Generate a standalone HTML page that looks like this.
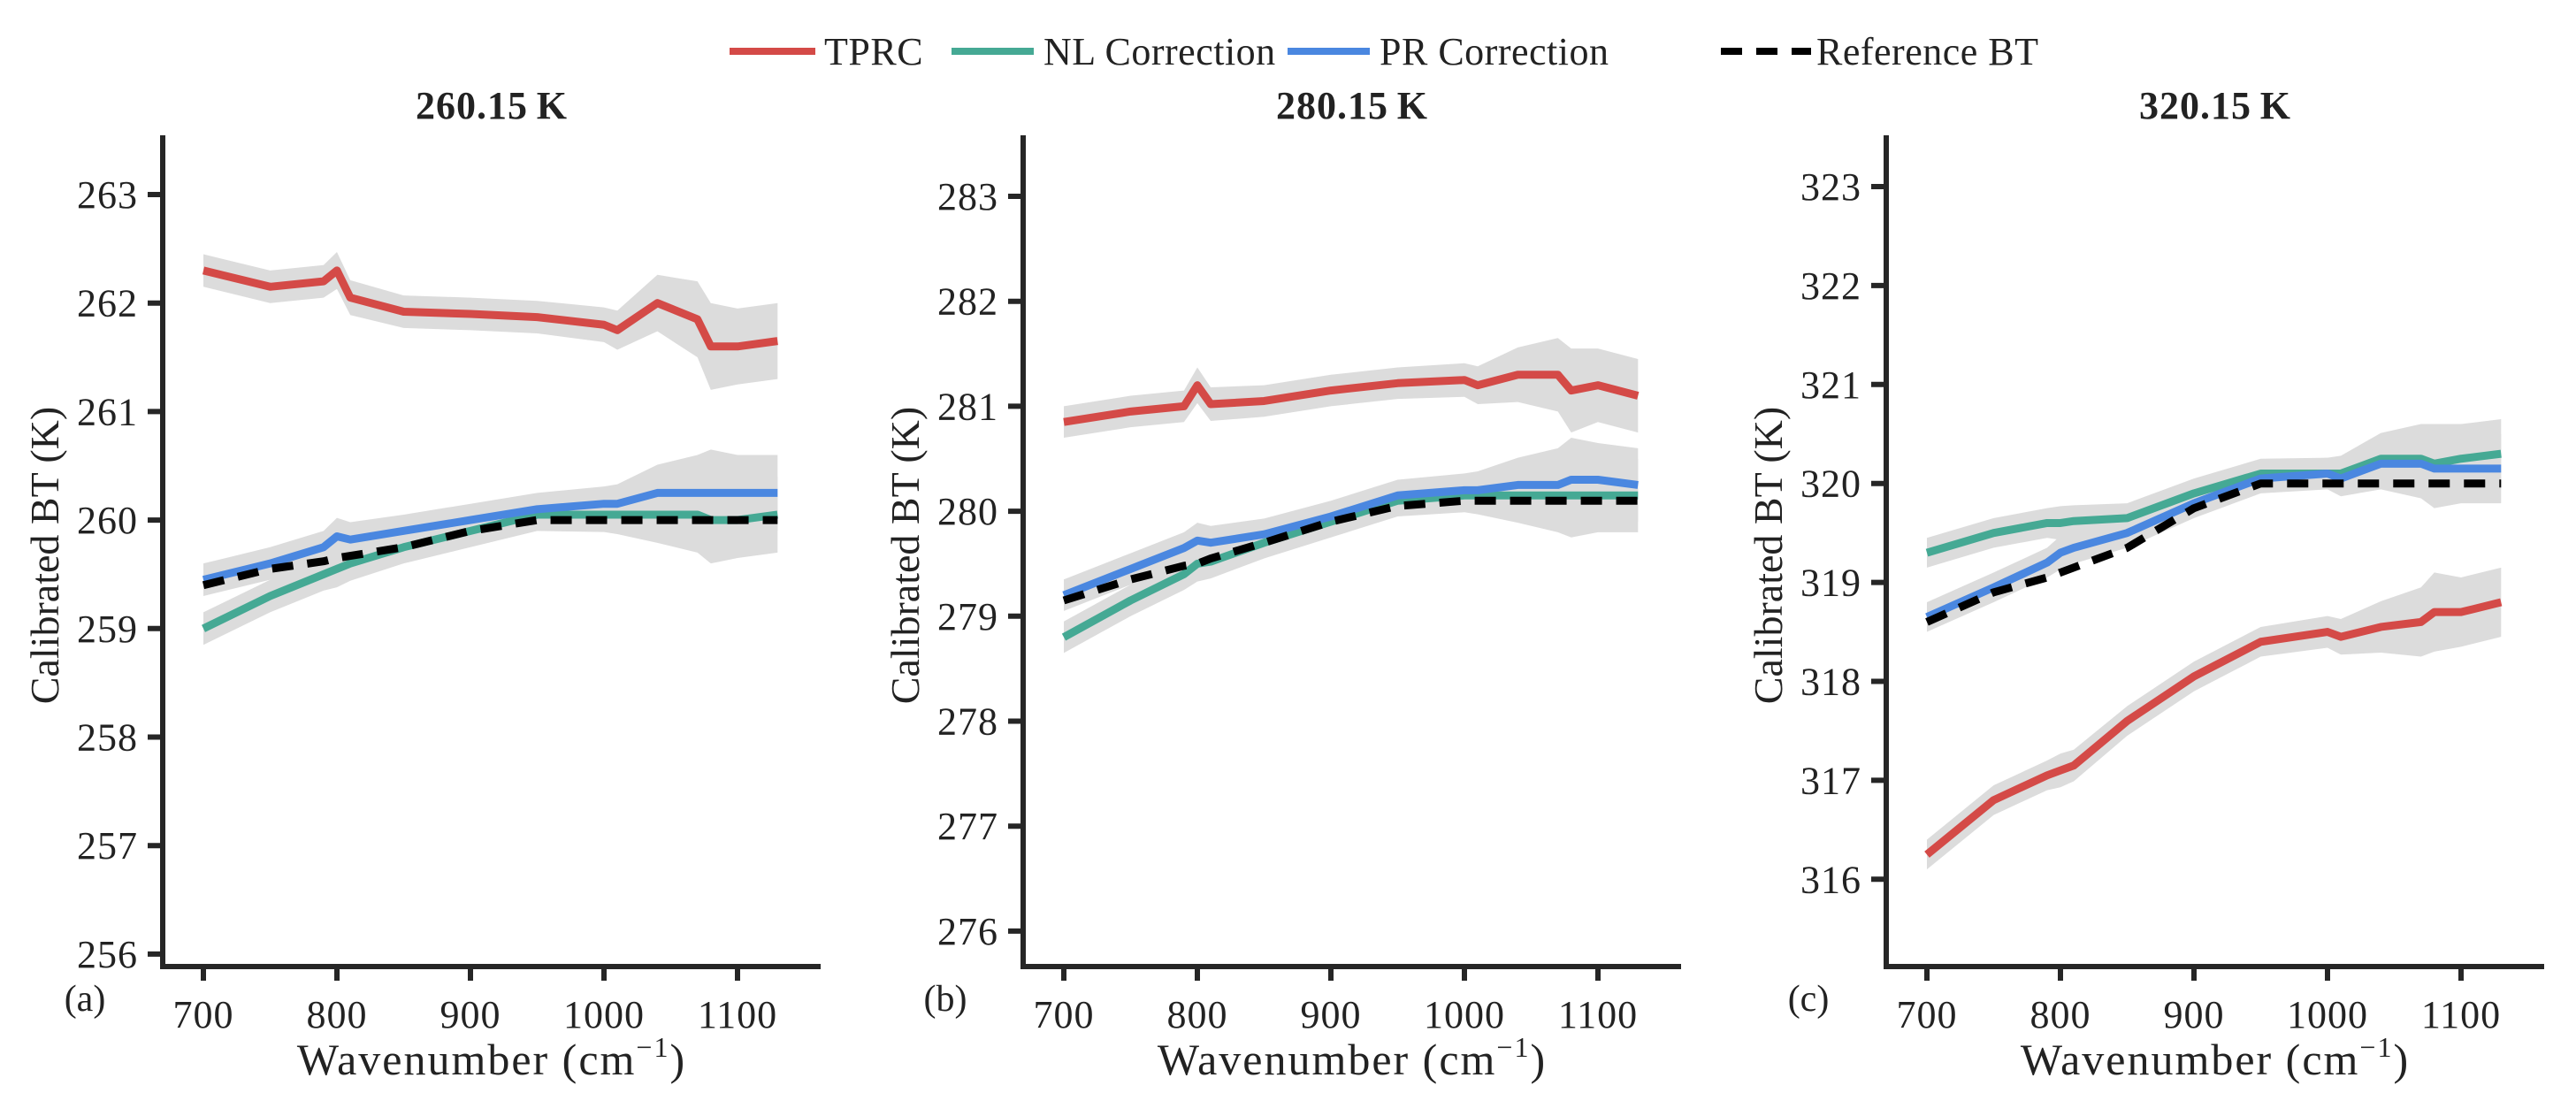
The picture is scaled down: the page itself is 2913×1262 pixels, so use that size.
<!DOCTYPE html>
<html><head><meta charset="utf-8"><style>
body{margin:0;background:#fff}
svg{display:block}
text{font-family:"Liberation Serif",serif;fill:#222}
</style></head><body>
<svg id="chart" width="2913" height="1262" viewBox="0 0 2913 1262" xmlns="http://www.w3.org/2000/svg">
<g id="legend">
 <g><line x1="825" y1="58" x2="922" y2="58" stroke="#d44a47" stroke-width="8"/><text x="932" y="73" font-size="44" letter-spacing="0.5">TPRC</text></g>
 <g><line x1="1076" y1="58" x2="1169" y2="58" stroke="#45a994" stroke-width="8"/><text x="1180" y="73" font-size="44" letter-spacing="0.5">NL Correction</text></g>
 <g><line x1="1456" y1="58" x2="1549" y2="58" stroke="#4a87e0" stroke-width="8"/><text x="1560" y="73" font-size="44" letter-spacing="0.5">PR Correction</text></g>
 <g><line x1="1946" y1="58" x2="2048" y2="58" stroke="#000" stroke-width="8" stroke-dasharray="24,16"/><text x="2054" y="73" font-size="44" letter-spacing="0.5">Reference BT</text></g>
</g>
</svg>
<script>
const wn = [700,750,790,800,810,850,900,950,1000,1010,1040,1070,1080,1100,1130];
const xTicks = [700,800,900,1000,1100];
const bandHalf = [0.15,0.15,0.15,0.17,0.16,0.15,0.15,0.15,0.16,0.18,0.26,0.35,0.4,0.35,0.35];
const aTitle = "260.15\u2009K", bTitle = "280.15\u2009K", cTitle = "320.15\u2009K";
const aTicks = [256,257,258,259,260,261,262,263];
const bTicks = [276,277,278,279,280,281,282,283];
const cTicks = [316,317,318,319,320,321,322,323];
const aTPRC = [262.3,262.15,262.2,262.3,262.05,261.92,261.9,261.87,261.8,261.75,262.0,261.85,261.6,261.6,261.65];
const aNL = [259.0,259.3,259.5,259.55,259.6,259.75,259.9,260.05,260.05,260.05,260.05,260.05,260.0,260.0,260.05];
const aPR = [259.45,259.6,259.75,259.85,259.82,259.9,260.0,260.1,260.15,260.15,260.25,260.25,260.25,260.25,260.25];
const aRef = [259.4,259.55,259.62,259.65,259.67,259.75,259.9,260.0,260.0,260.0,260.0,260.0,260.0,260.0,260.0];
const bTPRC = [280.85,280.95,281.0,281.2,281.02,281.05,281.15,281.22,281.25,281.2,281.3,281.3,281.15,281.2,281.1];
const bNL = [278.8,279.15,279.4,279.5,279.52,279.7,279.9,280.1,280.15,280.15,280.15,280.15,280.15,280.15,280.15];
const bPR = [279.2,279.45,279.65,279.72,279.7,279.78,279.95,280.15,280.2,280.2,280.25,280.25,280.3,280.3,280.25];
const bRef = [279.15,279.35,279.48,279.5,279.55,279.7,279.9,280.05,280.1,280.1,280.1,280.1,280.1,280.1,280.1];
const cTPRC = [316.25,316.8,317.05,317.1,317.15,317.6,318.05,318.4,318.5,318.45,318.55,318.6,318.7,318.7,318.8];
const cNL = [319.3,319.5,319.6,319.6,319.62,319.65,319.9,320.1,320.1,320.1,320.25,320.25,320.2,320.25,320.3];
const cPR = [318.65,318.95,319.2,319.3,319.35,319.5,319.8,320.05,320.1,320.05,320.2,320.2,320.15,320.15,320.15];
const cRef = [318.6,318.9,319.05,319.1,319.15,319.35,319.75,320.0,320.0,320.0,320.0,320.0,320.0,320.0,320.0];

const NS = "http://www.w3.org/2000/svg";
const svg = document.getElementById('chart');
function mk(tag, attrs, parent){const e=document.createElementNS(NS,tag);for(const k in attrs)e.setAttribute(k,attrs[k]);(parent||svg).appendChild(e);return e;}

function panel(key, axX, y0val, y0px, unit, title, ticks, tprc, nl, pr, ref, letter){
  const g = mk('g',{});
  
  
  const xs = v => axX + 46 + (v-700)*1.51;
  const ys = v => y0px - (v-y0val)*unit;
  const right = axX + 744, top = 153, bottom = 1093;
  [tprc,nl,pr].forEach((s,si)=>{
    let up = wn.map((w,i)=>xs(w)+','+ys(s[i]+bandHalf[i])).join(' ');
    let dn = wn.map((w,i)=>xs(w)+','+ys(s[i]-bandHalf[i])).reverse().join(' ');
    const p = mk('polygon',{points: up+' '+dn, fill:'#dcdcdc'}, g);
    
    
  });
  const series = [[tprc,'#d44a47','tprc',null],[nl,'#45a994','nl-correction',null],[pr,'#4a87e0','pr-correction',null],[ref,'#000','reference-bt','24,16']];
  series.forEach(([s,c,n,d])=>{
    const a = {points: wn.map((w,i)=>xs(w)+','+ys(s[i])).join(' '), fill:'none', stroke:c, 'stroke-width':9, 'stroke-linejoin':'round'};
    if(d) a['stroke-dasharray']=d;
    const l = mk('polyline', a, g);
    
    
  });
  const ya = mk('line',{x1:axX,y1:top,x2:axX,y2:bottom+3,stroke:'#262626','stroke-width':6},g);
  
  
  const xa = mk('line',{x1:axX-3,y1:bottom,x2:right,y2:bottom,stroke:'#262626','stroke-width':6},g);
  
  
  ticks.forEach(t=>{
    mk('line',{x1:axX-17,y1:ys(t),x2:axX,y2:ys(t),stroke:'#262626','stroke-width':6},g);
    const tx = mk('text',{x:axX-28,y:ys(t)+15,'font-size':44,'letter-spacing':1,'text-anchor':'end'},g);
    tx.textContent = t;
    
    
  });
  xTicks.forEach(t=>{
    mk('line',{x1:xs(t),y1:bottom,x2:xs(t),y2:bottom+16,stroke:'#262626','stroke-width':6},g);
    const tx = mk('text',{x:xs(t),y:1162,'font-size':44,'letter-spacing':1,'text-anchor':'middle'},g);
    tx.textContent = t;
    
    
  });
  const ti = mk('text',{x:(axX+right)/2,y:134,'font-size':44,'letter-spacing':1,'font-weight':'bold','text-anchor':'middle',fill:'#000'},g);
  ti.textContent = title;
  
  
  const xl = mk('text',{x:(axX+right)/2,y:1215,'font-size':50,'letter-spacing':2,'text-anchor':'middle'},g);
  xl.innerHTML = 'Wavenumber (cm<tspan dy="-20" font-size="32">\u22121</tspan><tspan dy="20">)</tspan>';
  
  
  const yl = mk('text',{x:0,y:0,'font-size':46,'text-anchor':'middle',transform:`translate(${axX-118},628) rotate(-90)`},g);
  yl.textContent = 'Calibrated BT (K)';
  
  
  const lt = mk('text',{x:axX-88,y:1143,'font-size':42,'text-anchor':'middle',fill:'#000'},g);
  lt.textContent = letter;
  
  
}
panel('a',184,263,220,122.7,aTitle,aTicks,aTPRC,aNL,aPR,aRef,'(a)');
panel('b',1157,283,222,118.7,bTitle,bTicks,bTPRC,bNL,bPR,bRef,'(b)');
panel('c',2133,323,211,111.9,cTitle,cTicks,cTPRC,cNL,cPR,cRef,'(c)');
svg.appendChild(document.getElementById('legend'));
</script>
</body></html>
